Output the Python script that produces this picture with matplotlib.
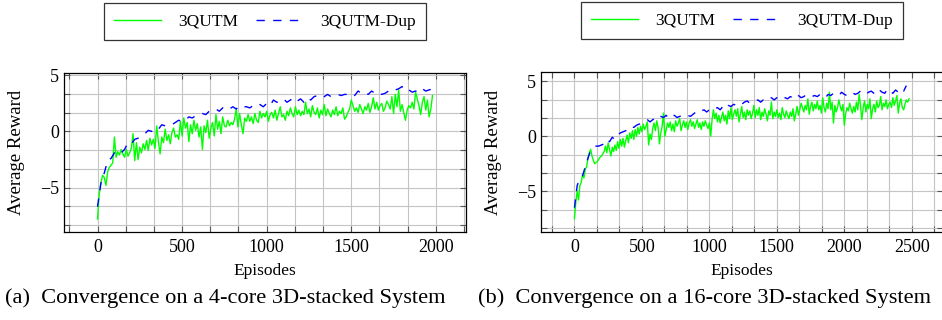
import numpy as np
import matplotlib
matplotlib.use("Agg")
import matplotlib.pyplot as plt
from matplotlib.ticker import MultipleLocator

plt.rcParams["font.family"] = ["Liberation Serif", "DejaVu Serif"]
plt.rcParams["axes.unicode_minus"] = True

# 4-core system: 3QUTM every 10 episodes, 3QUTM-Dup every 20 episodes
ep_a = np.arange(0, 1990, 10)
green_a = [
    -7.8, -5.6, -4.6, -3.9, -4.1, -4.8, -3.6, -3.2, -3.0, -2.8,
    -0.5, -2.3, -1.8, -2.1, -1.6, -2.0, -2.3, -1.6, -2.2, -1.9,
    -1.5, -0.2, -2.6, -1.0, -2.5, -1.4, -1.9, -1.1, -1.6, -0.8,
    -1.7, -0.6, -1.2, -0.7, -1.5, 0.5, -0.9, -2.0, -0.5, -1.0,
    0.2, -0.8, -0.3, -1.1, -0.1, 0.3, -0.5, -0.3, -0.7, 0.9,
    -0.4, 1.2, 0.3, 0.8, -0.9, 0.6, -0.2, 1.0, 0.1, 0.7,
    -0.5, 0.4, -1.6, 0.5, -0.1, 1.0, -0.6, 0.3, 0.8, -0.4,
    1.5, 0.2, 0.9, -0.2, 1.3, 0.5, 0.4, 1.0, 0.5, 0.8,
    0.6, 1.1, 2.0, 0.4, 1.6, 0.6, -0.2, 1.2, 0.9, 1.5,
    0.9, 1.3, 0.7, 1.6, 1.0, 0.8, 1.8, 1.2, 1.6, 1.3,
    1.8, 0.9, 1.5, 1.7, 1.2, 1.9, 1.0, 1.6, 2.2, 1.3,
    1.5, 1.0, 1.8, 1.4, 2.1, 1.6, 1.3, 2.2, 1.5, 1.9,
    1.4, 1.8, 1.5, 2.6, 1.6, 2.0, 1.3, 2.3, 1.7, 1.5,
    2.1, 1.2, 1.9, 1.5, 2.4, 1.4, 2.0, 1.6, 1.3, 1.9,
    1.5, 2.2, 1.4, 1.8, 1.6, 2.1, 1.1, 1.3, 1.7, 2.0,
    2.8, 2.3, 1.8, 2.1, 1.7, 2.4, 2.0, 1.6, 2.2, 1.9,
    2.5, 1.7, 2.2, 3.0, 2.0, 2.6, 1.9, 2.3, 2.5, 1.8,
    2.1, 2.7, 2.4, 2.0, 3.1, 1.6, 3.3, 2.2, 3.7, 1.8,
    2.4, 1.7, 1.0, 1.9, 2.3, 2.1, 2.6, 2.0, 3.5, 2.9,
    2.3, 1.5, 2.6, 3.1, 1.9, 2.8, 1.3, 2.0, 3.2,
]
ep_a_dup = np.arange(0, 2000, 20)
blue_a = [
    -6.7, -4.6, -3.7, -2.6, -2.4, -1.9, -1.7, -1.9, -1.6, -1.0,
    -1.1, -0.7, -0.6, -0.4, -0.2, 0.1, 0.0, 0.3, 0.2, 0.6,
    0.5, 0.6, 0.6, 0.8, 1.0, 0.9, 1.0, 1.3, 1.2, 1.4,
    1.5, 1.6, 1.5, 1.8, 1.9, 2.0, 1.8, 2.1, 1.9, 2.0,
    2.2, 2.0, 2.3, 2.2, 2.2, 2.1, 2.3, 2.2, 2.4, 2.2,
    2.5, 2.3, 2.8, 2.6, 2.7, 2.9, 2.6, 2.8, 3.0, 2.7,
    2.9, 2.6, 3.0, 2.8, 3.1, 3.2, 3.0, 3.1, 3.3, 3.1,
    3.2, 3.3, 3.2, 3.3, 3.3, 3.4, 3.2, 3.6, 3.4, 3.5,
    3.3, 3.6, 3.4, 3.5, 3.3, 3.4, 3.6, 3.5, 3.7, 3.8,
    4.0, 3.6, 3.7, 3.5, 3.6, 3.5, 3.8, 3.6, 3.7, 3.8,
]

# 16-core system
ep_b = np.arange(0, 2490, 10)
green_b = [
    -7.5, -6.0, -5.0, -5.8, -4.5, -4.2, -3.5, -3.8, -3.0, -2.8,
    -2.0, -1.5, -1.2, -1.8, -2.2, -2.5, -2.4, -2.3, -2.1, -1.9,
    -1.8, -1.6, -1.4, -0.9, -1.5, -0.6, -1.2, -1.8, -1.0, -1.4,
    -0.8, -1.3, -0.5, -1.1, -0.3, -0.9, -0.2, -1.0, -0.4, 0.1,
    -0.6, 0.3, -0.2, 0.5, -0.3, 0.6, 0.0, 0.8, 0.2, 0.9,
    0.4, 1.1, 0.6, 0.9, 1.3, -0.8, 0.2, -0.3, 0.7, 1.2,
    0.5, 1.4, 0.8, -0.7, 0.3, 0.9, 2.1, 0.0, 0.6, 1.2,
    0.8, 1.3, 0.5, 1.1, 0.4, 1.4, 0.9, 1.2, 1.6, 0.5,
    1.0, 1.4, 0.8, 1.3, 0.6, 1.2, 1.5, 0.9, 1.3, 0.7,
    1.1, 1.5, 0.8, 1.2, 0.6, 1.3, 0.9, 1.4, 1.0, 0.7,
    1.2, 0.0, 1.5, 2.4, 1.6, 2.1, 1.3, 1.9, 1.2, 1.7,
    2.2, 1.4, 1.9, 1.1, 2.3, 1.6, 2.6, 1.5, 2.0, 2.4,
    1.8, 2.5, 1.3, 2.0, 2.7, 1.7, 2.2, 1.5, 2.4, 1.9,
    2.3, 1.6, 2.1, 2.8, 1.7, 2.4, 1.9, 2.6, 1.5, 2.2,
    1.8, 2.5, 2.0, 1.4, 2.3, 1.9, 3.1, 1.6, 2.2, 1.8,
    2.4, 1.7, 2.1, 1.5, 2.6, 2.0, 1.7, 2.3, 1.9, 1.6,
    2.2, 1.8, 2.5, 1.4, 2.0, 2.7, 1.9, 2.4, 3.0, 2.6,
    2.2, 2.8, 2.4, 3.4, 2.0, 2.7, 3.1, 2.3, 2.9, 2.5,
    3.2, 2.4, 2.8, 2.1, 3.5, 2.6, 2.2, 3.0, 2.5, 4.0,
    2.4, 3.1, 1.2, 2.8, 2.2, 2.6, 3.3, 2.7, 2.3, 2.9,
    1.0, 2.0, 2.6, 2.3, 3.0, 2.5, 2.1, 2.7, 2.2, 3.1,
    2.4, 3.8, 2.8, 1.5, 2.6, 3.2, 2.2, 2.9, 2.5, 3.4,
    1.6, 2.5, 2.9, 2.2, 3.2, 2.6, 2.8, 3.6, 2.4, 3.0,
    2.7, 3.3, 2.5, 2.9, 3.1, 2.6, 3.5, 2.8, 3.2, 3.7,
    2.1, 3.0, 3.4, 2.6, 2.4, 2.9, 3.3, 3.1, 3.4,
]
ep_b_dup = np.arange(0, 2480, 20)
blue_b = [
    -6.5, -4.5, -3.8, -3.6, -2.8, -2.0, -1.3, -1.1, -0.9, -0.9,
    -0.8, -0.7, -0.3, -0.5, -0.1, -0.3, 0.1, 0.3, 0.4, 0.5,
    0.6, 0.9, 0.8, 1.0, 1.1, 1.2, 1.4, 1.5, 1.3, 1.5,
    1.6, 1.5, 1.8, 1.7, 1.9, 1.6, 1.8, 1.9, 1.7, 1.8,
    1.9, 1.8, 1.9, 1.8, 2.0, 2.2, 2.1, 2.3, 2.4, 2.2,
    2.4, 2.3, 2.5, 2.6, 2.4, 2.7, 2.5, 2.8, 2.7, 2.9,
    2.8, 3.0, 2.9, 3.1, 3.2, 3.0, 3.1, 3.2, 3.3, 3.1,
    3.3, 3.2, 3.4, 3.5, 3.3, 3.5, 3.4, 3.6, 3.5, 3.4,
    3.6, 3.5, 3.4, 3.7, 3.5, 3.6, 3.8, 3.7, 3.6, 3.7,
    3.6, 3.8, 3.7, 3.5, 3.8, 3.7, 3.9, 3.8, 3.7, 4.0,
    3.8, 3.7, 3.9, 4.0, 3.8, 3.9, 4.1, 3.9, 3.8, 4.0,
    4.1, 3.9, 3.8, 4.2, 4.0, 3.9, 4.3, 4.1, 3.9, 4.2,
    4.0, 4.3, 4.1, 4.6,
]

captions = ["(a)  Convergence on a 4-core 3D-stacked System",
            "(b)  Convergence on a 16-core 3D-stacked System"]

W, H = 942, 320
fig = plt.figure(figsize=(W / 100, H / 100), dpi=100)


def px_axes(x0, y0, x1, y1):
    return fig.add_axes([x0 / W, 1 - y1 / H, (x1 - x0) / W, (y1 - y0) / H])


panels = [
    (px_axes(64, 73.3, 466, 232.3), ep_a, green_a, ep_a_dup, blue_a),
    (px_axes(541, 72.3, 942.5, 232), ep_b, green_b, ep_b_dup, blue_b),
]
caption_x = [5, 478]

for i, (ax, x, g, xd, b) in enumerate(panels):
    ax.plot(x, g, color="#00ff00", lw=1.0, label="3QUTM")
    ax.plot(xd, b, color="#0000ff", lw=1.0, ls=(0, (6, 6)), label="3QUTM-Dup")

    # pgfplots-style 10% enlargement of limits
    xmin, xmax = min(x[0], xd[0]), max(x[-1], xd[-1])
    ymin, ymax = min(min(g), min(b)), max(max(g), max(b))
    dx, dy = 0.1 * (xmax - xmin), 0.1 * (ymax - ymin)
    ax.set_xlim(xmin - dx, xmax + dx)
    ax.set_ylim(ymin - dy, ymax + dy)

    ax.xaxis.set_major_locator(MultipleLocator(500))
    ax.xaxis.set_minor_locator(MultipleLocator(500 / 3))
    ax.yaxis.set_major_locator(MultipleLocator(5))
    ax.yaxis.set_minor_locator(MultipleLocator(5 / 3))
    ax.grid(which="both", color="#c4c4c4", lw=0.8)
    ax.set_axisbelow(True)
    ax.tick_params(which="both", direction="in", top=True, right=True,
                   length=4, width=0.8, color="#555555", labelsize=13)
    ax.tick_params(axis="x", pad=5)
    for s in ax.spines.values():
        s.set_linewidth(0.9)

    ax.set_xlabel("Episodes", fontsize=12.5, labelpad=5)
    ax.set_ylabel("Average Reward", fontsize=13.5, labelpad=11)

    leg = ax.legend(loc="lower center", bbox_to_anchor=(0.5, 1.207), ncol=2,
                    fontsize=12.5, frameon=True, fancybox=False,
                    edgecolor="#333333", framealpha=1, handlelength=2.7,
                    columnspacing=1.0, handletextpad=1.0, borderpad=0.6,
                    borderaxespad=0)
    leg.get_frame().set_linewidth(0.9)

    fig.text(caption_x[i] / W, 1 - 298 / H, captions[i],
             ha="left", va="center", fontsize=16.1)

fig.savefig("out.png", dpi=100)
